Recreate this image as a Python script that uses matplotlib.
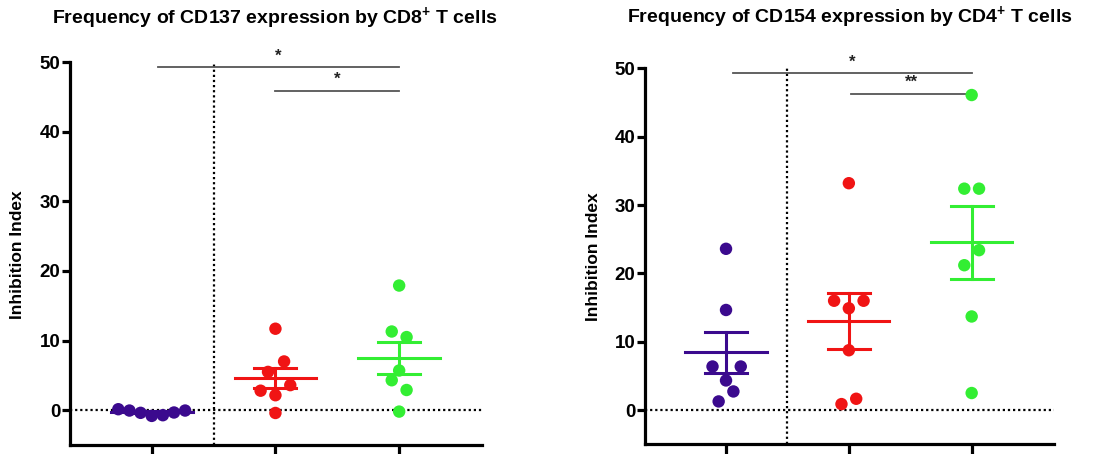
import numpy as np
import matplotlib
matplotlib.use("Agg")
from matplotlib import pyplot as plt

plt.rcParams["font.family"] = ["Liberation Sans", "DejaVu Sans"]
plt.rcParams["font.weight"] = "bold"
plt.rcParams["mathtext.fontset"] = "custom"
plt.rcParams["mathtext.rm"] = "Liberation Sans"
plt.rcParams["mathtext.bf"] = "Liberation Sans:bold"

colors = ["#3b0a8e", "#f01414", "#33ee33"]

# CD137 / CD8+ (left panel): x offsets within each group and values
cd8_dx = [
    [-0.27, -0.18, -0.09, 0.0, 0.09, 0.18, 0.27],
    [0.0, 0.07, -0.06, 0.12, -0.12, 0.0, 0.0],
    [0.0, -0.06, 0.06, 0.0, -0.06, 0.06, 0.0],
]
cd8_vals = [
    [0.14, -0.05, -0.38, -0.82, -0.72, -0.33, -0.05],
    [11.7, 7.0, 5.5, 3.6, 2.8, 2.15, -0.4],
    [17.9, 11.3, 10.5, 5.7, 4.3, 2.9, -0.2],
]
cd8_sig = [(0.05, 2.0, 49.3, "*"), (1.0, 2.0, 45.9, "*")]

# CD154 / CD4+ (right panel)
cd4_dx = [
    [0.0, 0.0, -0.11, 0.12, 0.0, 0.06, -0.06],
    [0.0, -0.12, 0.12, 0.0, 0.0, 0.06, -0.06],
    [0.0, -0.06, 0.06, 0.06, -0.06, 0.0, 0.0],
]
cd4_vals = [
    [23.6, 14.65, 6.38, 6.38, 4.34, 2.73, 1.27],
    [33.2, 16.0, 16.0, 14.9, 8.76, 1.66, 0.88],
    [46.1, 32.4, 32.4, 23.4, 21.2, 13.7, 2.5],
]
cd4_sig = [(0.06, 2.0, 49.3, "*"), (1.02, 2.0, 46.3, "**")]


def panel(ax, dx, vals, sig):
    for i, (d, v) in enumerate(zip(dx, vals)):
        v = np.array(v)
        m = v.mean()
        sem = v.std(ddof=1) / np.sqrt(len(v))
        ax.scatter(i + np.array(d), v, s=80, color=colors[i], zorder=3,
                   edgecolors="none")
        ax.plot([i - 0.33, i + 0.33], [m, m], color=colors[i], lw=2.2, zorder=4)
        ax.plot([i, i], [m - sem, m + sem], color=colors[i], lw=2.2, zorder=4)
        for y in (m - sem, m + sem):
            ax.plot([i - 0.17, i + 0.17], [y, y], color=colors[i], lw=2.2, zorder=4)
    ax.axhline(0, color="black", ls=(0, (1, 1.3)), lw=1.6, zorder=1)
    ax.axvline(0.5, color="black", ls=(0, (1, 1.3)), lw=1.6, zorder=1)
    for x0, x1, y, lab in sig:
        ax.plot([x0, x1], [y, y], color="#555555", lw=1.3, zorder=2)
        ax.text((x0 + x1) / 2, y + 0.5, lab, ha="center", va="bottom",
                fontsize=12, color="#222222")
    ax.set_xlim(-0.66, 2.67)
    ax.set_ylim(-5, 50)
    ax.set_xticks([0, 1, 2])
    ax.set_xticklabels([])
    ax.set_yticks([0, 10, 20, 30, 40, 50])
    ax.spines["top"].set_visible(False)
    ax.spines["right"].set_visible(False)
    for s in ("left", "bottom"):
        ax.spines[s].set_linewidth(2.3)
    ax.tick_params(axis="y", length=5.5, width=2.3, pad=1.5, labelsize=13.5)
    ax.tick_params(axis="x", length=9, width=2.3)
    for lab in ax.get_yticklabels():
        lab.set_fontweight("bold")


fig = plt.figure(figsize=(11.12, 4.54), dpi=100)
ax1 = fig.add_axes([0.063, 0.0198, 0.3705, 0.8436])
ax2 = fig.add_axes([0.580, 0.0214, 0.3678, 0.828])
panel(ax1, cd8_dx, cd8_vals, cd8_sig)
panel(ax2, cd4_dx, cd4_vals, cd4_sig)

fig.text(18 / 1112, 1 - 255 / 454, "Inhibition Index", rotation=90,
         ha="center", va="center", fontsize=12.5, fontweight="bold")
fig.text(594 / 1112, 1 - 257 / 454, "Inhibition Index", rotation=90,
         ha="center", va="center", fontsize=12.5, fontweight="bold")
fig.text(275 / 1112, 1 - 19 / 454,
         r"Frequency of CD137 expression by CD8$^{\mathbf{+}}$ T cells",
         ha="center", va="center", fontsize=14, fontweight="bold")
fig.text(850 / 1112, 1 - 18 / 454,
         r"Frequency of CD154 expression by CD4$^{\mathbf{+}}$ T cells",
         ha="center", va="center", fontsize=14, fontweight="bold")

fig.savefig("out.png", dpi=100)
